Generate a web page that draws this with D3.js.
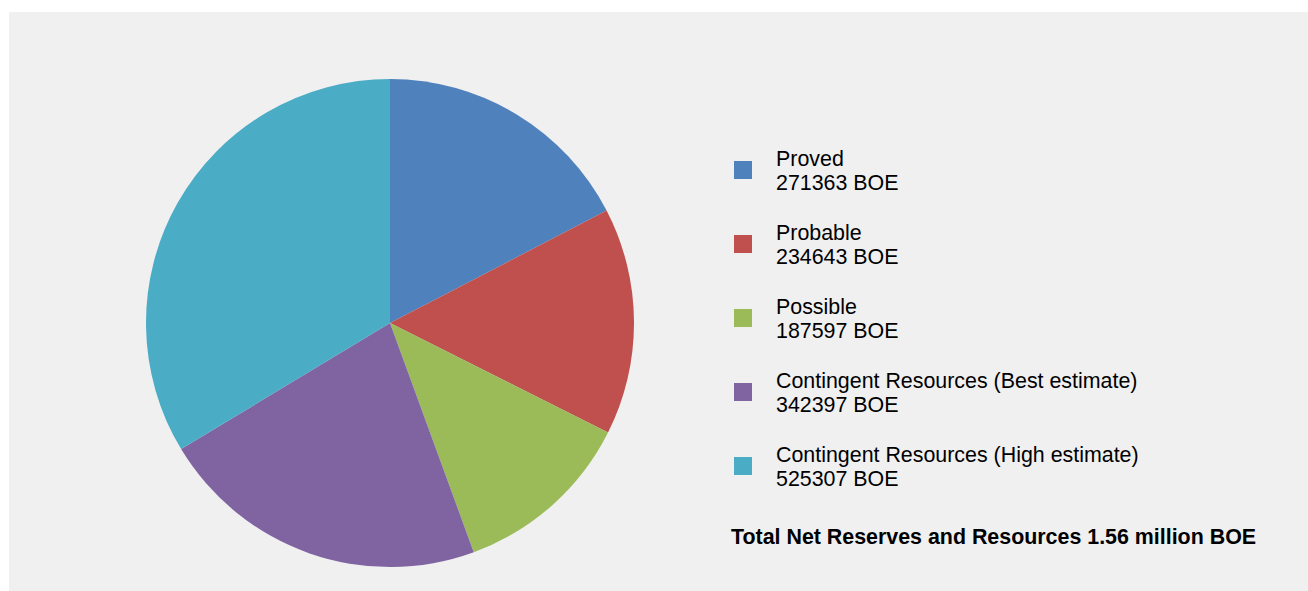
<!DOCTYPE html>
<html>
<head>
<meta charset="utf-8">
<script src="https://cdn.jsdelivr.net/npm/d3@7"></script>
<style>
  html, body { margin: 0; padding: 0; background: #ffffff; }
  svg { display: block; }
  text { font-family: "Liberation Sans", Arial, sans-serif; fill: #000; }
</style>
</head>
<body>
<svg id="chart" width="1308" height="591"></svg>
<script>
const categories = ["Proved", "Probable", "Possible", "Contingent Resources (Best estimate)", "Contingent Resources (High estimate)"];
const values = [271363, 234643, 187597, 342397, 525307];
const colors = ["#4F81BD", "#C0504D", "#9BBB59", "#8064A2", "#4BACC6"];
const unitLabel = "BOE";
const totalLabel = "Total Net Reserves and Resources 1.56 million BOE";

const svg = d3.select("#chart");
svg.append("rect").attr("x", 9).attr("y", 12).attr("width", 1299).attr("height", 579).attr("fill", "#f0f0f0");

const data = categories.map((c, i) => ({ name: c, value: values[i], color: colors[i] }));

const pie = d3.pie().value(d => d.value).sort(null);
const arc = d3.arc().innerRadius(0).outerRadius(244);

const g = svg.append("g").attr("transform", "translate(390,323)");
g.selectAll("path").data(pie(data)).join("path")
  .attr("d", arc)
  .attr("fill", d => d.data.color);

const legendY = d3.scaleLinear().domain([0, 1]).range([0, 74]);
const leg = svg.append("g");
const items = leg.selectAll("g").data(data).join("g")
  .attr("transform", (d, i) => `translate(0,${legendY(i)})`);
items.append("rect").attr("x", 734).attr("y", 161).attr("width", 18).attr("height", 18).attr("fill", d => d.color);
items.append("text").attr("x", 776).attr("y", 166).attr("font-size", 21.4).text(d => d.name);
items.append("text").attr("x", 776).attr("y", 190).attr("font-size", 21.4).text(d => d.value + " " + unitLabel);

svg.append("text").attr("x", 731).attr("y", 544).attr("font-size", 21.4).attr("font-weight", "bold").text(totalLabel);
</script>
</body>
</html>
